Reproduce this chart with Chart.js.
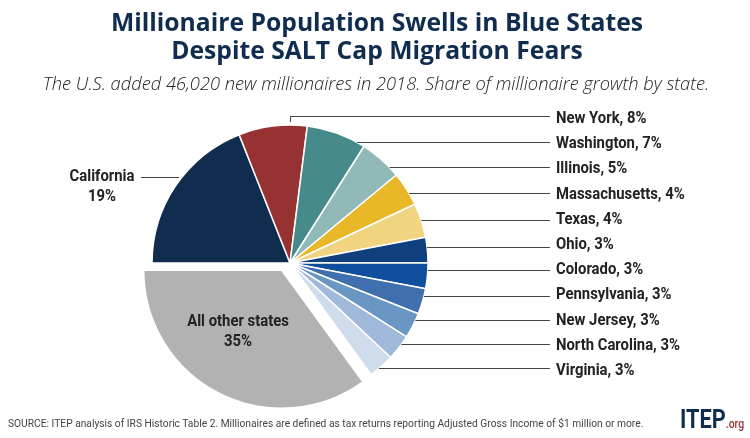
<!DOCTYPE html>
<html>
<head>
<meta charset="utf-8">
<title>Millionaire Population Swells in Blue States</title>
<script src="https://cdn.jsdelivr.net/npm/chart.js@4"></script>
<style>
  body { margin: 0; background: #fff; }
  #wrap { position: relative; width: 750px; height: 438px; overflow: hidden; }
  canvas { position: absolute; left: 0; top: 0; }
  .txt { position: absolute; white-space: nowrap; }
  #title { left: 2px; width: 750px; top: 8px; text-align: center; font: 700 24.7px/28px "Open Sans"; color: #102d50; }
  #subtitle { left: 1px; width: 750px; top: 72px; text-align: center; font: italic 300 18.3px/22px "Open Sans"; color: #222; }
  #source { left: 8px; top: 417px; font: 400 10.5px/14px Roboto; color: #444; transform-origin: left top; transform: scaleX(.975); }
  #logo { left: 680px; top: 405px; font: 700 25px/30px Roboto; color: #102d50; transform-origin: left top; transform: scaleX(.87); }
  #logo span { font-size: 12px; font-weight: 500; color: #963232; }
</style>
</head>
<body>
<div id="wrap">
  <canvas id="myChart" width="750" height="438"></canvas>
  <div class="txt" id="title">Millionaire Population Swells in Blue States<br>Despite SALT Cap Migration Fears</div>
  <div class="txt" id="subtitle">The U.S. added 46,020 new millionaires in 2018. Share of millionaire growth by state.</div>
  <div class="txt" id="source">SOURCE: ITEP analysis of IRS Historic Table 2. Millionaires are defined as tax returns reporting Adjusted Gross Income of $1 million or more.</div>
  <div class="txt" id="logo">ITEP<span>.org</span></div>
</div>
<script>
'use strict';
let categories=['California','New York','Washington','Illinois','Massachusetts','Texas','Ohio','Colorado','Pennsylvania','New Jersey','North Carolina','Virginia','All other states'];
let shares=[19,8,7,5,4,4,3,3,3,3,3,3,35];
let sliceColors=['#102d50','#963232','#468a8c','#91b9b7','#e8b828','#f0d480','#0f3f7c','#0f4f9e','#3f6faf','#6a96c4','#a0b9da','#cfdcec','#b2b2b2'];

// layout of the right hand labels
let firstLabelY=118.8;
let labelGap=25.2;
let leaderY=[116.5,142.5,167.5,193.5,220.5,247.5,270.5,296.5,320.5,344.5,368.5];
let lineEndX=550;
let labelX=556;
let narrow=0.90;

function condensedText(ctx,text,x,y,align){
  ctx.save();
  ctx.translate(x,y);
  ctx.scale(narrow,1);
  ctx.textAlign=align;
  ctx.textBaseline='middle';
  ctx.fillText(text,0,0);
  ctx.restore();
}

function hLine(ctx,x1,y1,x2,y2){
  ctx.beginPath();
  ctx.moveTo(x1,y1);
  ctx.lineTo(x2,y2);
  ctx.stroke();
}

let pieLabels={
  id:'pieLabels',
  // the big slice sits away from the center, down and left
  afterDatasetsUpdate(chart){
    let arcs=chart.getDatasetMeta(0).data;
    let last=arcs[arcs.length-1];
    last.x-=8.3;
    last.y+=7.2;
  },
  afterDraw(chart){
    let ctx=chart.ctx;
    let arc=chart.getDatasetMeta(0).data[0];
    let cx=arc.x;
    let cy=arc.y;
    let r=arc.outerRadius;
    ctx.save();
    ctx.fillStyle='#222';
    ctx.strokeStyle='#444';
    ctx.lineWidth=1;
    ctx.font='700 16.5px Roboto';

    // right side labels, California and the big slice are handled below
    for(let i=1; i<categories.length-1; i++){
      let y=firstLabelY+(i-1)*labelGap;
      condensedText(ctx,`${categories[i]}, ${shares[i]}%`,labelX,y,'left');
      let lineY=leaderY[i-1];
      if(i===1){
        hLine(ctx,cx,lineY,lineEndX,lineY);
        hLine(ctx,cx+.5,lineY,cx+.5,cy-r-3);
      }else{
        let startX=cx+Math.sqrt(r*r-(lineY-cy)*(lineY-cy));
        hLine(ctx,startX,lineY,lineEndX,lineY);
      }
    }

    condensedText(ctx,categories[0],102,177,'center');
    condensedText(ctx,`${shares[0]}%`,102,196.5,'center');
    hLine(ctx,141,177.5,179,177.5);

    let other=categories.length-1;
    condensedText(ctx,categories[other],238,322,'center');
    condensedText(ctx,`${shares[other]}%`,238,342,'center');
    ctx.restore();
  }
};

let ctx=document.getElementById('myChart').getContext('2d');
let myChart=new Chart(ctx,{
  type:'pie',
  data:{
    labels:categories,
    datasets:[{
      data:shares,
      backgroundColor:sliceColors,
      borderColor:'#fff',
      borderWidth:1.5
    }]
  },
  options:{
    responsive:false,
    animation:false,
    rotation:270,
    radius:138,
    layout:{padding:{left:152,right:322,top:125,bottom:37}},
    plugins:{
      legend:{display:false},
      tooltip:{enabled:false}
    }
  },
  plugins:[pieLabels]
});
</script>
</body>
</html>
